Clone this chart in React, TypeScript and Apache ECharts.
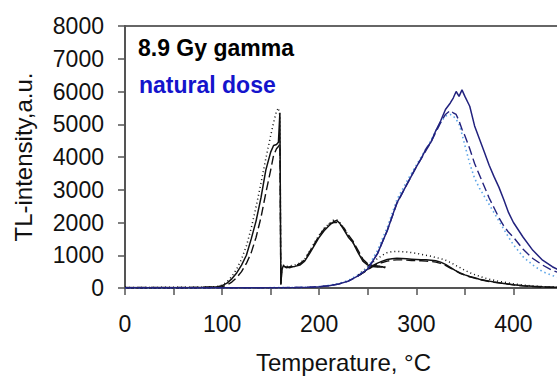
import React, { useEffect, useRef } from "react";
import * as echarts from "echarts";

// ---- data ----
const xTicks = [0, 100, 200, 300, 400];
const yTicks = [0, 1000, 2000, 3000, 4000, 5000, 6000, 7000, 8000];

// 8.9 Gy gamma – low temperature peaks
const blackPeakT = [0, 20, 40, 60, 80, 95, 100, 105, 110, 115, 120, 125, 130, 135, 140, 145, 150, 153, 156, 158, 159.5, 160.5, 161.5, 163, 166, 170, 175, 180, 185, 190, 195, 200, 205, 210, 215, 218, 221, 225, 230, 235, 240, 245, 250, 255, 260, 265, 268];
const blackPeakSolid = [15, 10, 15, 10, 20, 35, 70, 150, 280, 460, 700, 1000, 1500, 2050, 2750, 3600, 4150, 4350, 4380, 4450, 5350, 100, 550, 680, 620, 650, 660, 700, 820, 1050, 1300, 1550, 1750, 1900, 2030, 2060, 1980, 1800, 1550, 1380, 1080, 820, 700, 660, 640, 650, 620];
const blackPeakDashed = [10, 15, 10, 15, 15, 25, 40, 90, 180, 320, 500, 750, 1080, 1550, 2150, 2900, 3600, 4050, 4250, 4320, 4400, 120, 580, 650, 640, 620, 680, 740, 860, 1100, 1350, 1600, 1800, 1950, 2000, 2000, 1950, 1850, 1620, 1420, 1150, 880, 740, 680, 670, 660, 640];
const blackPeakDotted = [20, 15, 20, 20, 25, 45, 90, 190, 350, 580, 880, 1280, 1830, 2480, 3200, 3950, 4650, 5050, 5400, 5500, 5250, 150, 600, 700, 650, 680, 700, 760, 880, 1120, 1380, 1620, 1820, 1960, 2080, 2080, 2000, 1850, 1600, 1380, 1100, 850, 720, 680, 660, 650, 640];

// 8.9 Gy gamma – high temperature hump
const blackHumpT = [240, 245, 250, 255, 260, 265, 270, 275, 280, 285, 290, 295, 300, 305, 310, 315, 320, 325, 330, 335, 340, 345, 350, 355, 360, 365, 370, 375, 380, 385, 390, 400, 410, 420, 430, 440, 450];
const blackHumpSolid = [370, 470, 580, 680, 760, 820, 870, 890, 910, 900, 890, 880, 870, 860, 860, 850, 830, 790, 720, 630, 540, 460, 400, 350, 310, 270, 240, 210, 180, 160, 140, 100, 70, 50, 35, 25, 20];
const blackHumpDashed = [370, 460, 560, 650, 720, 780, 820, 850, 860, 860, 850, 840, 840, 830, 820, 810, 790, 750, 690, 610, 530, 450, 390, 340, 300, 260, 230, 200, 175, 155, 135, 95, 65, 45, 30, 22, 18];
const blackHumpDotted = [400, 520, 650, 780, 900, 1000, 1080, 1110, 1120, 1110, 1100, 1080, 1060, 1030, 1000, 970, 930, 900, 850, 780, 700, 620, 540, 470, 410, 360, 310, 270, 235, 205, 180, 130, 90, 62, 42, 30, 25];

// natural dose
const blueT = [0, 50, 100, 150, 175, 190, 200, 210, 220, 230, 240, 250, 260, 270, 280, 290, 300, 305, 310, 315, 320, 325, 330, 335, 338, 341, 344, 347, 350, 355, 360, 365, 370, 375, 380, 385, 390, 395, 400, 410, 420, 430, 440, 450];
const blueSolid = [5, 5, 5, 10, 15, 25, 40, 70, 120, 210, 370, 580, 1050, 1750, 2600, 3150, 3700, 3950, 4250, 4450, 4800, 5100, 5450, 5650, 5800, 6000, 5850, 6050, 5850, 5550, 4950, 4550, 4150, 3750, 3400, 3080, 2700, 2300, 2000, 1550, 1150, 850, 650, 500];
const blueDashed = [5, 5, 5, 10, 15, 25, 40, 70, 120, 210, 370, 580, 1050, 1750, 2580, 3150, 3700, 3950, 4200, 4450, 4750, 5050, 5300, 5420, 5350, 5300, 5100, 4850, 4650, 4250, 3800, 3450, 3100, 2750, 2450, 2150, 1900, 1700, 1550, 1180, 900, 700, 540, 430];
const blueDotted = [5, 5, 5, 10, 15, 25, 45, 80, 135, 230, 400, 620, 1150, 1850, 2700, 3250, 3750, 4000, 4250, 4500, 4800, 5050, 5250, 5300, 5250, 5150, 5000, 4700, 4350, 3800, 3350, 3050, 2800, 2550, 2300, 2050, 1800, 1550, 1320, 950, 700, 500, 380, 300];

const FONT = "'Liberation Sans', Arial, Helvetica, sans-serif";
const BLACK = "#111111";
const NAVY = "#22227e";
const LIGHTBLUE = "#5ea6e8";

function pairs(t: number[], v: number[]) {
  return t.map((x, i) => [x, v[i]]);
}

function line(name: string, t: number[], v: number[], color: string, type: any, width: number) {
  return {
    name,
    type: "line",
    data: pairs(t, v),
    showSymbol: false,
    symbol: "none",
    smooth: false,
    lineStyle: { color, width, type },
    silent: true,
  };
}

export default function App() {
  const ref = useRef<HTMLDivElement>(null);
  useEffect(() => {
    if (!ref.current) return;
    const chart = echarts.init(ref.current, undefined, { renderer: "svg" });
    const option = {
      animation: false,
      grid: {
        left: 125,
        top: 26,
        width: 437,
        height: 262,
        containLabel: false,
        outerBoundsMode: "none",
        show: true,
        borderColor: "#666",
        borderWidth: 2,
        backgroundColor: "transparent",
      },
      xAxis: {
        type: "value",
        min: 0,
        max: 450,
        interval: 50,
        name: "Temperature, °C",
        nameLocation: "middle",
        nameGap: 62,
        nameTextStyle: { fontSize: 24, color: BLACK, fontFamily: FONT },
        axisLine: { onZero: false, lineStyle: { color: "#555", width: 2 } },
        axisTick: { length: 7, lineStyle: { color: "#555", width: 1.5 } },
        axisLabel: {
          fontSize: 23,
          color: BLACK,
          fontFamily: FONT,
          margin: 24,
          formatter: (v: number) => (xTicks.includes(v) ? String(v) : ""),
        },
        splitLine: { show: false },
      },
      yAxis: {
        type: "value",
        min: 0,
        max: 8000,
        interval: 1000,
        name: "TL-intensity,a.u.",
        nameLocation: "middle",
        nameGap: 90,
        nameTextStyle: { fontSize: 24, color: BLACK, fontFamily: FONT },
        axisLine: { show: true, lineStyle: { color: "#555", width: 2 } },
        axisTick: { show: true, length: 7, lineStyle: { color: "#555", width: 1.5 } },
        axisLabel: {
          fontSize: 23,
          color: BLACK,
          fontFamily: FONT,
          margin: 21,
          formatter: (v: number) => (yTicks.includes(v) ? String(v) : ""),
        },
        splitLine: { show: false },
      },
      graphic: [
        {
          type: "text",
          left: 138,
          top: 36,
          style: { text: "8.9 Gy gamma", font: `bold 23px ${FONT}`, fill: "#000" },
          silent: true,
        },
        {
          type: "text",
          left: 139,
          top: 73,
          style: { text: "natural dose", font: `bold 23px ${FONT}`, fill: "#1414cc" },
          silent: true,
        },
      ],
      series: [
        line("gamma peaks dotted", blackPeakT, blackPeakDotted, BLACK, [1, 3], 1.5),
        line("gamma peaks dashed", blackPeakT, blackPeakDashed, BLACK, [9, 4], 1.4),
        line("gamma peaks solid", blackPeakT, blackPeakSolid, BLACK, "solid", 1.5),
        line("gamma hump dotted", blackHumpT, blackHumpDotted, BLACK, [1, 3], 1.5),
        line("gamma hump dashed", blackHumpT, blackHumpDashed, BLACK, [9, 4], 1.4),
        line("gamma hump solid", blackHumpT, blackHumpSolid, BLACK, "solid", 1.5),
        line("natural dotted", blueT, blueDotted, LIGHTBLUE, [1.5, 3], 1.6),
        line("natural dashed", blueT, blueDashed, NAVY, [9, 4], 1.4),
        line("natural solid", blueT, blueSolid, NAVY, "solid", 1.5),
      ],
    };
    chart.setOption(option as any);
    return () => chart.dispose();
  }, []);
  return (
    <div
      ref={ref}
      style={{ position: "fixed", left: 0, top: 0, width: 600, height: 376, background: "#fff" }}
    />
  );
}
